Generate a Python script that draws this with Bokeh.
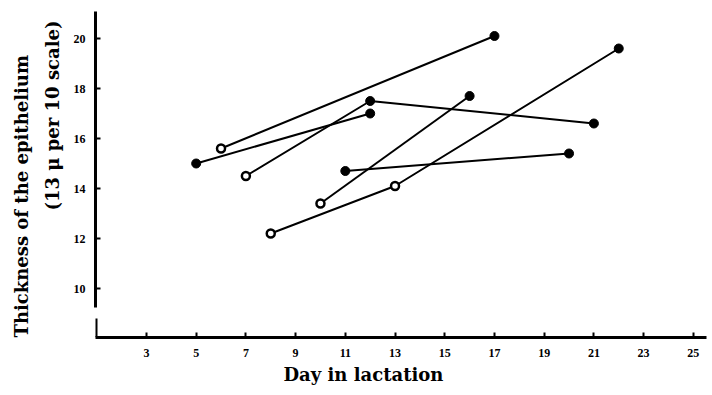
import numpy as np
from bokeh.plotting import figure
from bokeh.models import Range1d, FixedTicker, Title
from bokeh.embed import file_html
from bokeh.resources import INLINE

# Each series: one animal, days in lactation and epithelium thickness
series_days = [
    [5, 12],
    [6, 17],
    [7, 12, 21],
    [11, 20],
    [10, 16],
    [8, 13, 22],
]
series_vals = [
    [15.0, 17.0],
    [15.6, 20.1],
    [14.5, 17.5, 16.6],
    [14.7, 15.4],
    [13.4, 17.7],
    [12.2, 14.1, 19.6],
]
# open (True) or filled (False) marker for each point
series_open = [
    [False, False],
    [True, False],
    [True, False, False],
    [False, False],
    [True, False],
    [True, True, False],
]

x_ticks = [3, 5, 7, 9, 11, 13, 15, 17, 19, 21, 23, 25]
y_ticks = [10, 12, 14, 16, 18, 20]

SERIF = "DejaVu Serif"
X0, X1 = 0.95, 25.53
Y0, Y1 = 8.04, 21.08
BREAK = (8.8, 9.24)

p = figure(width=712, height=395, output_backend="svg", toolbar_location=None,
           x_range=Range1d(X0, X1), y_range=Range1d(Y0, Y1),
           min_border_left=95, min_border_right=6, min_border_top=11, min_border_bottom=58)
p.outline_line_color = None
p.xgrid.visible = False
p.ygrid.visible = False
p.background_fill_color = "white"

for ax, ticks in ((p.xaxis[0], x_ticks), (p.yaxis[0], y_ticks)):
    ax.ticker = FixedTicker(ticks=ticks)
    ax.minor_tick_line_color = None
    ax.major_tick_in = 5
    ax.major_tick_out = 0
    ax.major_tick_line_width = 2
    ax.major_tick_line_color = "black"
    ax.axis_line_width = 3
    ax.axis_line_color = "black"
    ax.major_label_text_font = "Liberation Serif"
    ax.major_label_text_font_style = "bold"
    ax.major_label_text_font_size = "12px"
    ax.major_label_text_color = "black"
p.xaxis.major_label_standoff = 11
p.yaxis.major_label_standoff = 10
# broken vertical axis: upper part drawn by the axis, lower stub drawn as a segment
p.yaxis.bounds = (BREAK[1], Y1)
p.segment(x0=[X0 + 0.02], y0=[Y0], x1=[X0 + 0.02], y1=[BREAK[0]], line_color="black", line_width=3)

for d, v, o in zip(series_days, series_vals, series_open):
    p.line(d, v, line_color="black", line_width=2)
    d = np.array(d); v = np.array(v); o = np.array(o)
    p.scatter(d[~o], v[~o], size=9, fill_color="black", line_color="black")
    p.scatter(d[o], v[o], size=8, fill_color="white", line_color="black", line_width=2.5)

tkw = dict(text_font=SERIF, text_font_style="bold", text_font_size="18px", text_color="black")
p.add_layout(Title(text="(13 \u03bc per 10 scale)", align="left", offset=127, standoff=16,
                   text_line_height=0.9, **tkw), "left")
p.add_layout(Title(text="Thickness of the epithelium", align="left", offset=0, standoff=0,
                   text_line_height=0.9, **tkw), "left")
p.add_layout(Title(text="Day in lactation", align="left", offset=188, standoff=4, **tkw), "below")

open("out.html", "w").write(file_html(p, INLINE))
